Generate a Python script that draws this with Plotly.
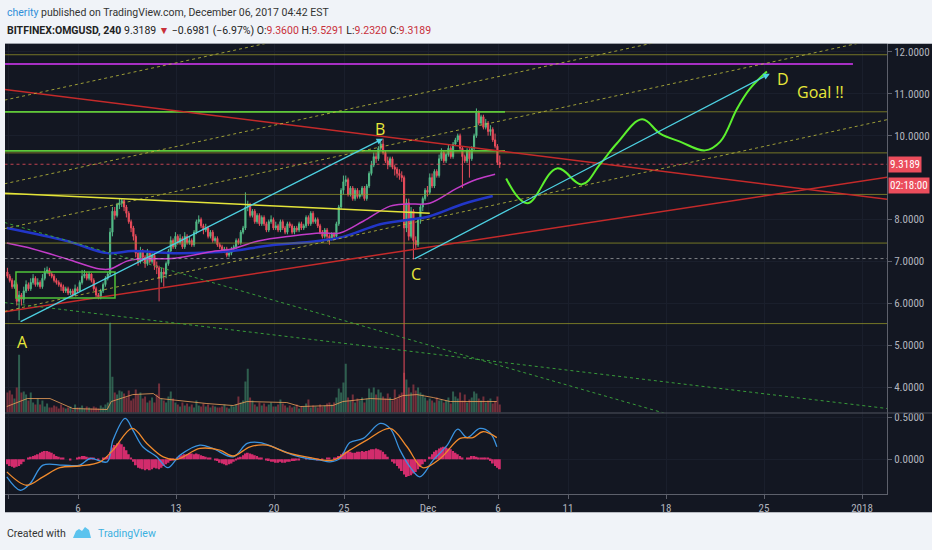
import pandas as pd
import plotly.graph_objects as go

W, H = 932, 550

# BITFINEX:OMGUSD 4h candles, first bar Oct 31 23:00 (open of first bar, then closes)
first_open = 6.75
close = [
    6.65,
    6.55, 6.40, 6.45, 6.05, 6.20, 6.10,    # Nov 1
    6.30, 6.45, 6.35, 6.50, 6.60, 6.45,
    6.50, 6.40, 6.60, 6.75, 6.80, 6.70,
    6.65, 6.55, 6.50, 6.45, 6.40, 6.30,
    6.35, 6.25, 6.30, 6.20, 6.35, 6.30,
    6.50, 6.65, 6.70, 6.60, 6.70, 6.55,
    6.35, 6.20, 6.15, 6.30, 6.45, 6.60,
    6.70, 7.70, 8.20, 8.10, 8.35, 8.40,    # Nov 8
    8.45, 8.30, 8.15, 7.95, 7.80, 7.60,
    7.20, 7.00, 7.25, 7.10, 6.95, 7.20,
    7.00, 7.15, 6.90, 6.85, 6.60, 6.75,
    6.70, 6.95, 7.25, 7.50, 7.35, 7.60,
    7.45, 7.55, 7.35, 7.60, 7.45, 7.50,
    7.40, 7.70, 7.95, 8.00, 7.85, 7.75,
    7.80, 7.60, 7.70, 7.50, 7.55, 7.40,    # Nov 15
    7.35, 7.25, 7.30, 7.15, 7.20, 7.30,
    7.35, 7.50, 7.45, 7.70, 7.80, 8.30,
    8.35, 8.10, 8.20, 7.95, 8.10, 7.90,
    8.05, 7.90, 7.75, 7.95, 8.00, 7.80,
    7.85, 7.75, 7.95, 7.80, 7.70, 7.90,
    7.85, 7.70, 7.80, 7.75, 7.90, 7.80,
    7.85, 8.05, 7.90, 8.15, 7.95, 8.00,    # Nov 22
    7.85, 7.70, 7.60, 7.75, 7.60, 7.55,
    7.65, 7.60, 7.90, 8.30, 8.70, 8.90,
    8.95, 8.60, 8.75, 8.50, 8.70, 8.55,
    8.60, 8.75, 8.50, 8.80, 9.10, 9.30,
    9.50, 9.45, 9.70, 9.80, 9.60, 9.40,
    9.30, 9.45, 9.25, 9.20, 9.10, 9.05,
    9.00, 7.80, 8.40, 7.60, 8.20, 7.50,    # Nov 29
    7.40, 8.00, 8.30, 8.50, 8.70, 8.65,
    9.00, 8.80, 9.15, 9.05, 9.45, 9.60,    # Dec 1
    9.40, 9.55, 9.70, 9.50, 9.80, 9.90,
    10.00, 9.70, 9.50, 9.40, 9.65, 9.45,
    9.70, 10.00, 10.55, 10.30, 10.45, 10.20,
    10.30, 10.10, 10.15, 9.90, 9.75, 9.36,
    9.3189,
]
high = [
    6.85,
    6.70, 6.60, 6.55, 6.50, 6.30, 6.25,
    6.40, 6.55, 6.50, 6.60, 6.70, 6.65,
    6.60, 6.55, 6.70, 6.85, 6.88, 6.85,
    6.75, 6.70, 6.60, 6.55, 6.50, 6.45,
    6.40, 6.40, 6.35, 6.35, 6.45, 6.40,
    6.55, 6.80, 6.80, 6.75, 6.75, 6.72,
    6.60, 6.40, 6.25, 6.35, 6.50, 6.65,
    6.75, 7.80, 8.30, 8.30, 8.40, 8.50,
    8.50, 8.48, 8.35, 8.20, 8.00, 7.85,
    7.65, 7.25, 7.35, 7.30, 7.15, 7.30,
    7.25, 7.20, 7.20, 7.00, 6.90, 6.85,
    6.85, 7.00, 7.30, 7.60, 7.55, 7.70,
    7.65, 7.65, 7.60, 7.70, 7.65, 7.60,
    7.55, 7.75, 8.00, 8.10, 8.05, 7.90,
    7.90, 7.85, 7.75, 7.75, 7.60, 7.60,
    7.45, 7.40, 7.35, 7.35, 7.30, 7.35,
    7.40, 7.55, 7.55, 7.75, 7.85, 8.65,
    8.45, 8.40, 8.25, 8.25, 8.15, 8.15,
    8.10, 8.10, 7.95, 8.00, 8.10, 8.05,
    7.95, 7.90, 8.00, 8.00, 7.85, 7.95,
    7.95, 7.90, 7.85, 7.85, 7.95, 7.95,
    7.90, 8.10, 8.10, 8.20, 8.20, 8.05,
    8.05, 7.90, 7.75, 7.80, 7.80, 7.65,
    7.70, 7.70, 7.95, 8.35, 8.75, 9.05,
    9.05, 9.00, 8.80, 8.80, 8.75, 8.75,
    8.70, 8.80, 8.80, 8.85, 9.15, 9.40,
    9.60, 9.60, 9.75, 9.85, 9.93, 9.65,
    9.50, 9.50, 9.50, 9.30, 9.25, 9.20,
    9.15, 9.05, 8.50, 8.50, 8.30, 8.25,
    7.60, 8.05, 8.35, 8.55, 8.75, 8.80,
    9.10, 9.10, 9.20, 9.20, 9.55, 9.70,
    9.65, 9.60, 9.80, 9.75, 9.85, 9.95,
    10.05, 10.05, 9.75, 9.55, 9.70, 9.70,
    9.75, 10.05, 10.65, 10.60, 10.50, 10.50,
    10.40, 10.35, 10.25, 10.20, 10.05, 9.80,
    9.5291,
]
low = [
    6.60,
    6.50, 6.35, 6.35, 5.95, 5.60, 5.95,
    6.00, 6.25, 6.30, 6.30, 6.45, 6.40,
    6.40, 6.35, 6.35, 6.55, 6.70, 6.65,
    6.60, 6.50, 6.45, 6.40, 6.30, 6.25,
    6.25, 6.20, 6.20, 6.15, 6.18, 6.25,
    6.28, 6.45, 6.60, 6.55, 6.55, 6.50,
    6.30, 6.15, 6.10, 6.10, 6.25, 6.40,
    6.55, 6.65, 7.60, 8.00, 8.05, 8.25,
    8.30, 8.20, 8.05, 7.90, 7.70, 7.50,
    7.10, 6.90, 6.95, 7.00, 6.85, 6.90,
    6.95, 6.95, 6.80, 6.70, 6.05, 6.50,
    6.40, 6.60, 6.90, 7.20, 7.30, 7.30,
    7.40, 7.40, 7.30, 7.30, 7.40, 7.40,
    7.35, 7.35, 7.65, 7.90, 7.80, 7.65,
    7.70, 7.55, 7.55, 7.45, 7.45, 7.35,
    7.30, 7.20, 7.20, 7.10, 7.10, 7.15,
    7.25, 7.30, 7.40, 7.40, 7.65, 7.75,
    8.20, 8.05, 8.05, 7.90, 7.90, 7.85,
    7.85, 7.85, 7.70, 7.70, 7.90, 7.75,
    7.75, 7.70, 7.70, 7.75, 7.65, 7.65,
    7.80, 7.65, 7.65, 7.70, 7.70, 7.75,
    7.75, 7.80, 7.85, 7.85, 7.90, 7.90,
    7.80, 7.65, 7.55, 7.55, 7.50, 7.40,
    7.50, 7.55, 7.55, 7.85, 8.25, 8.60,
    8.80, 8.55, 8.55, 8.45, 8.45, 8.50,
    8.50, 8.55, 8.45, 8.45, 8.75, 9.05,
    9.25, 9.35, 9.40, 9.65, 9.55, 9.35,
    9.20, 9.25, 9.20, 9.05, 9.00, 8.95,
    8.90, 3.30, 7.70, 7.50, 7.55, 7.05,
    7.30, 7.35, 7.90, 8.20, 8.45, 8.55,
    8.60, 8.75, 8.75, 9.00, 9.00, 9.40,
    9.35, 9.35, 9.50, 9.45, 9.45, 9.75,
    9.85, 9.65, 8.75, 9.35, 9.35, 9.00,
    9.40, 9.65, 9.95, 10.25, 10.25, 10.15,
    10.15, 10.00, 10.00, 9.85, 9.70, 9.30,
    9.2320,
]
volume = [
    200,
    220, 180, 140, 250, 580, 200,
    210, 180, 120, 200, 100, 80,
    140, 80, 120, 60, 90, 50,
    50, 70, 60, 40, 80, 50,
    40, 50, 60, 30, 80, 50,
    50, 70, 40, 60, 50, 40,
    60, 50, 40, 70, 50, 80,
    100, 900, 360, 200, 180, 220,
    210, 190, 150, 220, 120, 140,
    230, 180, 200, 140, 160, 100,
    120, 150, 100, 180, 290, 140,
    120, 100, 160, 210, 140, 100,
    80, 60, 100, 70, 90, 60,
    80, 50, 120, 70, 60, 90,
    60, 80, 50, 70, 60, 50,
    50, 60, 80, 50, 40, 70,
    60, 80, 160, 100, 120, 310,
    440, 150, 120, 80, 60, 100,
    70, 90, 60, 80, 100, 60,
    60, 80, 130, 90, 70, 50,
    70, 50, 60, 80, 40, 60,
    60, 90, 130, 50, 70, 60,
    50, 80, 60, 70, 90, 100,
    80, 100, 150, 240, 200, 300,
    490, 150, 120, 180, 100, 140,
    120, 150, 100, 140, 240, 200,
    250, 180, 230, 200, 160, 140,
    190, 150, 120, 230, 140, 180,
    200, 400, 330, 250, 200, 280,
    220, 250, 200, 180, 150, 120,
    140, 120, 100, 150, 120, 130,
    100, 120, 150, 90, 210, 160,
    140, 200, 120, 180, 100, 130,
    150, 210, 190, 140, 120, 160,
    100, 120, 140, 90, 110, 160,
    80,
]
macd_hist = [
    -0.06,
    -0.08, -0.09, -0.10, -0.09, -0.08, -0.06,
    -0.03, 0.00, 0.02, 0.03, 0.04, 0.05,
    0.06, 0.08, 0.09, 0.10, 0.10, 0.09,
    0.08, 0.06, 0.04, 0.03, 0.02, 0.01,
    0.00, 0.00, -0.01, 0.00, 0.00, 0.01,
    0.03, 0.04, 0.04, 0.03, 0.02, 0.01,
    0.01, 0.00, -0.01, 0.00, 0.01, 0.02,
    0.04, 0.09, 0.14, 0.17, 0.19, 0.20,
    0.18, 0.15, 0.11, 0.06, 0.02, -0.03,
    -0.07, -0.10, -0.11, -0.12, -0.13, -0.12,
    -0.13, -0.12, -0.10, -0.11, -0.12, -0.10,
    -0.08, -0.06, -0.04, -0.02, -0.01, 0.00,
    0.02, 0.04, 0.05, 0.06, 0.06, 0.07,
    0.07, 0.06, 0.07, 0.06, 0.05, 0.04,
    0.03, 0.02, 0.01, 0.00, -0.01, -0.02,
    -0.04, -0.05, -0.06, -0.07, -0.06, -0.05,
    -0.03, -0.01, 0.01, 0.03, 0.05, 0.07,
    0.08, 0.07, 0.06, 0.05, 0.04, 0.02,
    0.01, 0.00, -0.01, -0.02, -0.03, -0.03,
    -0.04, -0.04, -0.03, -0.04, -0.04, -0.03,
    -0.03, -0.02, -0.02, -0.01, -0.01, 0.00,
    0.00, 0.01, 0.00, 0.01, 0.00, 0.00,
    -0.01, 0.00, -0.01, 0.00, 0.01, 0.01,
    0.00, 0.01, 0.02, 0.04, 0.06, 0.08,
    0.09, 0.10, 0.09, 0.08, 0.08, 0.09,
    0.09, 0.10, 0.09, 0.10, 0.11, 0.12,
    0.12, 0.13, 0.12, 0.11, 0.09, 0.06,
    0.03, 0.00, -0.03, -0.05, -0.08, -0.11,
    -0.14, -0.18, -0.21, -0.20, -0.19, -0.17,
    -0.15, -0.12, -0.09, -0.06, -0.03, 0.00,
    0.03, 0.06, 0.09, 0.11, 0.13, 0.14,
    0.15, 0.14, 0.13, 0.12, 0.10, 0.08,
    0.06, 0.04, 0.02, 0.00, 0.01, 0.02,
    0.04, 0.04, 0.03, 0.02, 0.02, 0.01,
    0.02, 0.01, -0.02, -0.05, -0.08, -0.10,
    -0.12,
]

# indicator lines
ma_blue_t = ["2017-10-31 22:00", "2017-11-05 05:00", "2017-11-08 02:00", "2017-11-09 22:00",
             "2017-11-12 19:00", "2017-11-17 00:00", "2017-11-19 09:00", "2017-11-24 14:00",
             "2017-11-27 14:00", "2017-11-29 12:00", "2017-12-01 03:00", "2017-12-03 12:00",
             "2017-12-05 15:00"]
ma_blue_v = [7.80, 7.49, 7.20, 7.25, 7.20, 7.25, 7.37, 7.56, 7.89, 7.99, 8.08, 8.37, 8.56]
ma_mag_t = ["2017-10-31 22:00", "2017-11-02 19:00", "2017-11-05 05:00", "2017-11-07 14:00",
            "2017-11-08 07:00", "2017-11-09 12:00", "2017-11-10 10:00", "2017-11-12 22:00",
            "2017-11-15 19:00", "2017-11-17 00:00", "2017-11-18 21:00", "2017-11-21 07:00",
            "2017-11-23 10:00", "2017-11-24 17:00", "2017-11-26 09:00", "2017-11-28 07:00",
            "2017-11-29 12:00", "2017-12-01 03:00", "2017-12-03 02:00", "2017-12-04 12:00",
            "2017-12-05 19:00"]
ma_mag_v = [7.44, 7.30, 7.06, 6.82, 6.82, 7.01, 7.06, 7.08, 7.25, 7.30, 7.49, 7.61,
            7.68, 7.68, 7.96, 8.32, 8.37, 8.39, 8.75, 8.96, 9.08]
vol_ma_t = ["2017-10-31 22:00", "2017-11-02 09:00", "2017-11-04 00:00", "2017-11-05 15:00",
            "2017-11-08 02:00", "2017-11-08 09:00", "2017-11-09 22:00", "2017-11-11 09:00",
            "2017-11-11 21:00", "2017-11-13 19:00", "2017-11-15 05:00", "2017-11-17 02:00",
            "2017-11-18 02:00", "2017-11-20 22:00", "2017-11-21 21:00", "2017-11-24 05:00",
            "2017-11-24 22:00", "2017-11-26 21:00", "2017-11-28 12:00", "2017-11-29 05:00",
            "2017-11-30 05:00", "2017-12-01 09:00", "2017-12-02 14:00", "2017-12-05 22:00"]
vol_ma_v = [60, 140, 140, 40, 30, 110, 180, 190, 140, 110, 90, 70,
            110, 100, 60, 70, 110, 140, 130, 170, 180, 150, 110, 110]
macd_t = ["2017-10-31 22:00", "2017-11-01 21:00", "2017-11-02 14:00", "2017-11-03 12:00",
          "2017-11-04 22:00", "2017-11-06 03:00", "2017-11-06 21:00", "2017-11-08 02:00",
          "2017-11-08 12:00", "2017-11-09 09:00", "2017-11-09 22:00", "2017-11-10 15:00",
          "2017-11-11 15:00", "2017-11-12 10:00", "2017-11-13 07:00", "2017-11-14 17:00",
          "2017-11-15 15:00", "2017-11-17 02:00", "2017-11-18 02:00", "2017-11-19 00:00",
          "2017-11-19 22:00", "2017-11-21 09:00", "2017-11-22 09:00", "2017-11-23 07:00",
          "2017-11-24 00:00", "2017-11-24 17:00", "2017-11-25 10:00", "2017-11-26 09:00",
          "2017-11-27 14:00", "2017-11-28 07:00", "2017-11-29 00:00", "2017-11-29 17:00",
          "2017-11-30 10:00", "2017-12-01 09:00", "2017-12-02 09:00", "2017-12-03 03:00",
          "2017-12-03 19:00", "2017-12-04 17:00", "2017-12-05 10:00", "2017-12-05 22:00"]
macd_v = [-0.21, -0.37, -0.29, -0.07, -0.07, -0.07, 0.01, -0.03, 0.23, 0.49,
          0.35, 0.15, 0.03, -0.10, 0.05, 0.17, 0.13, 0.03, 0.19, 0.20,
          0.15, 0.05, 0.01, -0.01, -0.03, 0.01, 0.20, 0.25, 0.43, 0.37,
          0.11, -0.09, -0.21, -0.01, 0.17, 0.36, 0.26, 0.37, 0.32, 0.15]
signal_t = ["2017-10-31 22:00", "2017-11-02 08:00", "2017-11-03 12:00", "2017-11-04 17:00",
            "2017-11-06 03:00", "2017-11-07 14:00", "2017-11-08 12:00", "2017-11-09 21:00",
            "2017-11-10 22:00", "2017-11-12 02:00", "2017-11-13 02:00", "2017-11-14 17:00",
            "2017-11-16 03:00", "2017-11-17 02:00", "2017-11-18 07:00", "2017-11-19 12:00",
            "2017-11-20 22:00", "2017-11-22 14:00", "2017-11-24 05:00", "2017-11-25 10:00",
            "2017-11-26 15:00", "2017-11-28 07:00", "2017-11-29 12:00", "2017-11-30 15:00",
            "2017-12-01 21:00", "2017-12-03 07:00", "2017-12-04 05:00", "2017-12-04 22:00",
            "2017-12-05 22:00"]
signal_v = [-0.15, -0.31, -0.21, -0.10, -0.08, -0.03, 0.11, 0.37, 0.19, 0.03,
            0.00, 0.13, 0.11, 0.04, 0.15, 0.17, 0.08, 0.02, -0.01, 0.11,
            0.23, 0.37, 0.15, -0.10, 0.01, 0.25, 0.26, 0.33, 0.26]

# drawings on the chart
left_t, right_t = "2017-10-31 18:00", "2018-01-03 00:00"
olive_levels = [11.93, 10.57, 9.59, 8.60, 7.44, 5.52]
green_levels = [10.57, 9.64]
green_end = "2017-12-06 12:00"
purple_level, purple_end = 11.71, "2017-12-31 08:30"
dotted_level = 7.07
last_price = 9.3189
countdown_level = 8.82
red_lines = [(11.105, 8.475), (5.80, 9.02)]
channel_lines = [(10.848, 15.43), (8.853, 13.437), (7.784, 12.368), (5.812, 10.397)]
green_dotted = [(7.931, 1.83), (6.021, 3.487)]
yellow_line = ("2017-10-31 18:00", 8.63, "2017-12-01 03:00", 8.15)
ab_line = ("2017-11-01 19:00", 5.55, "2017-11-27 19:00", 9.93)
cd_line = ("2017-11-29 23:00", 7.05, "2017-12-25 10:00", 11.48)
box = ("2017-11-01 13:40", 6.13, "2017-11-08 15:25", 6.75)
path_t = ["2017-12-06 14:00", "2017-12-08 02:00", "2017-12-10 05:00", "2017-12-12 00:00",
          "2017-12-13 07:00", "2017-12-14 12:00", "2017-12-16 07:00", "2017-12-17 14:00",
          "2017-12-19 00:00", "2017-12-20 19:00", "2017-12-21 21:00", "2017-12-23 02:00",
          "2017-12-24 00:00", "2017-12-25 05:00"]
path_v = [8.98, 8.39, 9.22, 8.84, 9.32, 9.82, 10.39, 10.05, 9.86, 9.65, 9.86, 10.65,
          11.12, 11.53]
labels = ["A", "B", "C", "D", "Goal !!"]
label_t = ["2017-11-02 00:00", "2017-11-27 14:00", "2017-11-30 03:00", "2017-12-26 09:00",
           "2017-12-29 00:00"]
label_v = [5.09, 10.15, 6.70, 11.34, 11.05]

# price scale: 9.0000 sits under the last price / countdown tags, as on the original
price_ticks = [4, 5, 6, 7, 8, 10, 11, 12]
tick_days = ["2017-11-01", "2017-11-06", "2017-11-13", "2017-11-20", "2017-11-25", "2017-12-01",
             "2017-12-06", "2017-12-11", "2017-12-18", "2017-12-25", "2018-01-01"]
tick_text = ["Nov", "6", "13", "20", "25", "Dec", "6", "11", "18", "25", "2018"]

BG = "#131722"
UP, DOWN = "#53b987", "#eb4d5c"
NARROW = "Liberation Sans Narrow, Roboto Condensed, Roboto"
AXF = dict(family=NARROW, size=11, color="#b2b5be")


def px(x):
    return x / W


def py(y):
    return 1 - y / H


times = pd.date_range("2017-10-31 23:00", periods=len(close), freq="4h")
opens = [first_open] + close[:-1]
vol_colors = ["rgba(83,185,135,0.45)" if c >= o else "rgba(235,77,92,0.45)" for o, c in zip(opens, close)]

fig = go.Figure()

fig.add_trace(go.Bar(x=times, y=volume, marker_color=vol_colors, marker_line_width=0, yaxis="y2"))
fig.add_trace(go.Scatter(x=vol_ma_t, y=vol_ma_v, mode="lines", yaxis="y2",
                         line=dict(color="rgba(240,160,90,0.8)", width=1)))
fig.add_trace(go.Scatter(x=ma_blue_t, y=ma_blue_v, mode="lines", line=dict(color="#2236c8", width=2.5, shape="spline")))
fig.add_trace(go.Scatter(x=ma_mag_t, y=ma_mag_v, mode="lines", line=dict(color="#c23cc8", width=1.5, shape="spline")))

fig.add_trace(go.Candlestick(
    x=times, open=opens, high=high, low=low, close=close,
    increasing=dict(line=dict(color=UP, width=1), fillcolor=UP),
    decreasing=dict(line=dict(color=DOWN, width=1), fillcolor=DOWN),
))


def seg(t0, p0, t1, p1, color, width=1, dash="solid"):
    fig.add_trace(go.Scatter(x=[t0, t1], y=[p0, p1], mode="lines",
                             line=dict(color=color, width=width, dash=dash)))


for lvl in olive_levels:
    seg(left_t, lvl, right_t, lvl, "rgba(150,150,40,0.75)", 1)
for lvl in green_levels:
    seg(left_t, lvl, green_end, lvl, "#5fc83a", 1.8)
seg(left_t, purple_level, purple_end, purple_level, "#a72fc4", 1.8)
seg(left_t, dotted_level, right_t, dotted_level, "rgba(200,200,200,0.6)", 1, "dot")
seg(left_t, last_price, right_t, last_price, "rgba(235,77,92,0.8)", 1, "dot")
for a, b in red_lines:
    seg(left_t, a, right_t, b, "#c42a2a", 1.5)
for a, b in channel_lines:
    seg(left_t, a, right_t, b, "rgba(190,190,60,0.8)", 1, "dot")
for a, b in green_dotted:
    seg(left_t, a, right_t, b, "rgba(60,170,60,0.9)", 1, "dot")
seg(*yellow_line, "#e4e43a", 1.5)

fig.add_shape(type="rect", xref="x", yref="y", x0=box[0], y0=box[1], x1=box[2], y1=box[3],
              line=dict(color="#4fc43a", width=1.5))

fig.add_trace(go.Scatter(x=path_t, y=path_v, mode="lines",
                         line=dict(color="#5cf02e", width=2, shape="spline", smoothing=1.1)))

fig.add_trace(go.Bar(x=times, y=macd_hist, marker_color="#d22c6c", marker_line_width=0, yaxis="y3"))
fig.add_trace(go.Scatter(x=macd_t, y=macd_v, mode="lines", yaxis="y3",
                         line=dict(color="#3a93e0", width=1.3, shape="spline")))
fig.add_trace(go.Scatter(x=signal_t, y=signal_v, mode="lines", yaxis="y3",
                         line=dict(color="#f08a2c", width=1.3, shape="spline")))

for t0, p0, t1, p1 in (ab_line, cd_line):
    fig.add_annotation(x=t1, y=p1, ax=t0, ay=p0, xref="x", yref="y", axref="x", ayref="y",
                       text="", showarrow=True, arrowhead=2, arrowsize=1, arrowwidth=1.3,
                       arrowcolor="#4dd0e1")

for txt, t, v in zip(labels, label_t, label_v):
    fig.add_annotation(x=t, y=v, xref="x", yref="y", text=txt, showarrow=False,
                       xanchor="center", yanchor="middle",
                       font=dict(family="Open Sans", size=16, color="#e8e83a"))

# last price and countdown tags on the price scale
for txt, v in ((f"{last_price:.4f}", last_price), ("02:18:00", countdown_level)):
    fig.add_annotation(x=px(888), y=v, xref="paper", yref="y", xanchor="left", yanchor="middle",
                       text=txt, showarrow=False, bgcolor=DOWN, borderpad=1,
                       font=dict(family=NARROW, size=11, color="white"))

# header and footer
head = dict(xref="paper", yref="paper", xanchor="left", yanchor="middle", showarrow=False)
fig.add_annotation(x=px(5), y=py(11), **head,
                   text="<span style='color:#2f8fd8'>cherity</span> published on TradingView.com, "
                        "December 06, 2017 04:42 EST",
                   font=dict(family="Roboto", size=10.5, color="#333"))
red = "<span style='color:#c8303a'>"
fig.add_annotation(x=px(5), y=py(29), **head,
                   text=f"<b>BITFINEX:OMGUSD, 240</b> 9.3189 {red}▼</span> −0.6981 (−6.97%) "
                        f"O:{red}9.3600</span> H:{red}9.5291</span> L:{red}9.2320</span> C:{red}9.3189</span>",
                   font=dict(family="Roboto", size=10.5, color="#222"))
fig.add_annotation(x=px(5), y=py(533), **head,
                   text="Created with", font=dict(family="Roboto", size=10.5, color="#333"))
fig.add_annotation(x=px(96), y=py(533), **head,
                   text="TradingView", font=dict(family="Roboto", size=10.5, color="#3bb0e0"))
logo = [(73, 538), (76, 531), (79, 529), (82, 531), (85, 527), (89, 530), (91, 538)]
fig.add_shape(type="path", xref="paper", yref="paper",
              path="M " + " L ".join(f"{px(a)},{py(b)}" for a, b in logo) + " Z",
              fillcolor="#5cc3ee", line=dict(width=0))

# chart frame
fig.add_shape(type="rect", xref="paper", yref="paper", x0=px(5), x1=1, y0=py(512), y1=py(42),
              fillcolor=BG, line_width=0, layer="below")
fig.add_shape(type="line", xref="paper", yref="paper", x0=px(5), x1=1, y0=py(412.5), y1=py(412.5),
              line=dict(color="#50545f", width=1))

fig.update_layout(
    width=W, height=H, margin=dict(l=0, r=0, t=0, b=0),
    paper_bgcolor="#f0f3f8", plot_bgcolor=BG,
    showlegend=False, bargap=0.15,
    xaxis=dict(type="date", domain=[px(5), px(887)], anchor="y3",
               range=["2017-10-31 18:51", "2018-01-02 18:51"],
               rangeslider=dict(visible=False),
               tickvals=tick_days, ticktext=tick_text, tickfont=AXF,
               ticks="outside", ticklen=4, tickcolor="#5d606b",
               showline=True, linecolor="#5d606b", showgrid=True, gridcolor="#1a1f2c", zeroline=False),
    yaxis=dict(domain=[py(412), py(42)], range=[3.40, 12.19], side="right", anchor="x",
               tickvals=price_ticks, tickformat=".4f", tickfont=AXF, ticks="outside", ticklen=4,
               tickcolor="#5d606b",
               showline=True, linecolor="#5d606b", showgrid=True, gridcolor="#1a1f2c", zeroline=False),
    yaxis2=dict(overlaying="y", range=[0, 3700], visible=False),
    yaxis3=dict(domain=[py(494), py(413)], range=[-0.417, 0.548], side="right", anchor="x",
                tickvals=[0, 0.5], ticktext=["0.0000", "0.5000"], tickfont=AXF,
                ticks="outside", ticklen=4, tickcolor="#5d606b",
                showline=True, linecolor="#5d606b", showgrid=True, gridcolor="#1a1f2c", zeroline=False),
)

fig.write_html("out.html", config={"displayModeBar": False},
               post_script="document.body.style.margin='0';document.body.style.overflow='hidden';")
